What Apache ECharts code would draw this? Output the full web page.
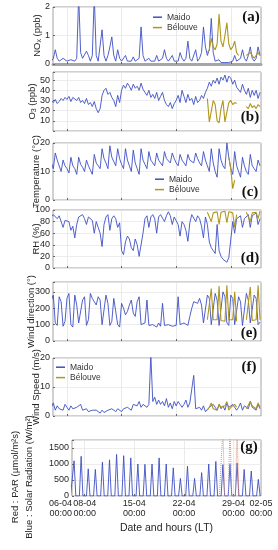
<!DOCTYPE html>
<html><head><meta charset="utf-8">
<script src="https://cdn.jsdelivr.net/npm/echarts@6/dist/echarts.min.js"></script>
<style>html,body{margin:0;padding:0;background:#fff}#c{width:278px;height:550px}</style>
</head><body><div id="c"></div>
<script>
// ---- time grid (hours since 06-04 00:00 LT) ----
const maidoStartHour = 0;     // Maido series start 06-04 00:00
const belouveStartHour = 480; // Bélouve / PAR series start 26-04 00:00
const stepHours = 6;          // one value every 6 h (00, 06, 12, 18)
const xMinHour = 5, xMaxHour = 645;
const xGridHours = [48, 216, 384, 552];
const xLabelHours = [5, 48, 216, 384, 552, 645];
const xLabelTexts = ['06-04\n00:00','08-04\n00:00','15-04\n00:00','22-04\n00:00','29-04\n00:00','02-05\n00:00'];

// ---- (a) NOx (ppb) ----
const noxMaido = [
 0.1,0.2,0.5,0.2, 0.1,0.1,0.2,0.15, 0.1,0.1,0.15,0.1, 0.1,0.2,2.4,0.4, 0.2,0.2,0.45,0.3,
 0.1,0.3,2.4,0.3, 0.1,0.1,1.2,0.3, 0.1,0.3,0.6,0.95, 0.3,0.1,0.5,0.2, 0.1,0.1,0.3,0.1,
 0.1,0.1,0.25,0.1, 0.1,0.2,1.3,0.3, 0.1,0.1,0.2,0.1, 0.1,0.1,0.3,0.1, 0.1,0.2,0.5,0.2,
 0.1,0.1,0.3,0.1, 0.1,0.1,0.4,0.2, 0.1,0.2,0.8,0.2, 0.1,0.1,0.5,0.1, 0.2,0.4,1.3,0.6,
 0.3,0.5,1.6,0.4, 0.1,0.05,0.15,0.05, 0.05,0.05,0.1,0.05, 0.05,0.1,0.3,0.1, 0.1,0.2,0.5,0.2,
 0.1,0.3,0.6,0.2, 0.1,0.2,0.6,0.3];
const noxBelouve = [
 0.4,0.5,0.9,0.6, 0.5,0.7,1.75,0.8, 0.6,1.0,1.45,0.7, 0.5,0.6,0.8,0.4,
 0.3,null,null,null, 0.3,0.3,0.4,0.3, 0.2,0.3,0.4,0.3];

// ---- (b) O3 (ppb) ----
const o3Maido = [
 30,28,31,27, 29,32,30,33, 31,34,29,33, 32,30,33,28, 30,27,32,26,
 28,24,29,22, 18,22,35,40, 42,36,38,33, 30,24,35,28, 40,45,42,47,
 44,40,46,42, 44,40,47,41, 38,35,40,33, 36,32,38,30, 34,38,30,26,
 24,28,22,27, 30,35,28,40, 34,28,36,30, 32,26,34,28, 30,35,32,38,
 42,48,44,50, 47,52,46,53, 50,55,48,54, 52,46,50,43, 44,38,46,40,
 36,42,33,40, 35,40,32,38];
const o3Belouve = [
 32,9,8,30, 26,10,8,22, 30,9,9,28, 30,26,28,27,
 null,null,null,null, 24,22,27,23, 25,22,26,24];

// ---- (c) Temperature (°C) ----
const tempMaido = [
 13,11,16.5,14, 12,10,14,12, 11,9.5,15,12, 11,9,15,12.5, 11.5,10,14,12,
 10.5,9,16,13, 12,11,18,14.5, 13,11,19,15, 13.5,12,18,14.5, 12.5,11,18,14,
 12,10,17.5,13, 11,9,18,14, 12.5,11,17,14, 13,12,16.5,14, 13,12,17,14.5,
 14,13,16.5,14.5, 13,12,16,14, 13,12,16,14, 14,13,16.5,14.5, 13,12,17,14,
 12,10,18,13, 10,8,18,14, 12,11,20,15, 11,9,17,12, 10,8,15,12,
 10,9,16,12, 11,10,14,12];
const tempBelouve = [
 null,null,null,null, null,null,null,null, null,null,null,15, 11,4,7,null,
 null,null,null,null, null,null,null,null, null,null,null,null];

// ---- (d) RH (%) ----
const rhMaido = [
 88,92,90,85, 90,88,70,82, 85,80,65,72, 52,75,88,90, 92,85,75,88,
 90,82,60,80, 70,60,37,75, 88,92,65,85, 90,85,70,78, 30,23,45,55,
 50,35,30,50, 40,20,17,60, 85,90,70,88, 92,85,60,88, 92,95,80,90,
 97,90,75,88, 85,75,55,80, 75,65,46,78, 92,95,80,90, 85,72,52,88,
 75,45,35,30, 25,75,30,20, 15,12,10,18, 20,80,60,85, 85,90,70,85,
 88,92,70,90, 90,95,75,85];
const rhBelouve = [
 96,98,80,95, 98,97,75,96, 98,98,78,97, 97,95,70,92,
 null,null,null,null, 96,97,80,95, 97,96,85,98];

// ---- (e) Wind direction (°) ----
const wdMaido = [
 250,280,110,95, 270,240,90,120, 260,290,100,85, 280,220,110,100, 250,270,95,130,
 290,260,240,220, 270,250,100,90, 280,230,95,120, 260,270,100,85, 230,200,160,180,
 220,250,170,150, 240,270,100,90, 110,250,95,90, 100,95,85,110, 90,230,95,85,
 100,95,90,100, 95,270,100,90, 110,100,95,150, 200,240,250,230, 260,220,110,100,
 280,260,100,110, 290,250,95,100, 300,270,110,95, 280,260,100,110, 270,240,95,100,
 290,250,110,120, 280,260,100,115];
const wdBelouve = [
 130,120,320,130, 125,130,335,125, 130,120,340,130, 125,130,300,120,
 null,null,null,null, 130,125,330,125, 120,130,340,130];

// ---- (f) Wind speed (m/s) ----
const wsMaido = [
 3,4.5,2,3.5, 2.5,3,2,4, 3,2,3.5,2.5, 2,3,2.5,4, 2,1.5,2.5,1.5,
 1,2,1.5,2, 1.5,1,2,1.2, 1,2,1.5,2.5, 2,1.5,2.5,2, 1.5,2.5,2,3,
 3,2,4,3.5, 3.5,5,3,4, 4,3,4,21, 5,6.5,4,5.5, 4,5,3.5,6,
 3,4.5,2.5,5, 3.5,5,4,3, 4,5.5,3,4.5, 4,14,2.5,3, 3,2,3.5,1.5,
 2,3,2.5,4, 3,2,4,2.5, 3.5,2,4.5,3, 2.5,4,3,2, 3,4.5,2,3.5,
 4,2.5,5,3, 3,2,4,2.5];
const wsBelouve = [
 2,3,4.5,2.5, 3,2,4,3, 2.5,3.5,5,2, 3,2.5,4,3,
 null,null,null,null, 2.5,3,5,3.5, 3,2.5,4.5,3];

// ---- (g) Solar radiation (W/m²) and PAR (µmol/m²s) ----
const solarMaido = [
 0,0,1100,0, 0,0,1240,0, 0,0,850,0, 0,0,830,0, 0,0,1060,0,
 0,0,1130,0, 0,0,1300,0, 0,0,1260,0, 0,0,1190,0, 0,0,1000,0,
 0,0,990,0, 0,0,1000,0, 0,0,1190,0, 0,0,1000,0, 0,0,880,0,
 0,0,550,0, 0,0,930,0, 0,0,550,0, 0,0,730,0, 0,0,1000,0,
 0,0,1080,0, 0,0,980,0, 0,0,990,0, 0,0,1030,0, 0,0,830,0,
 0,0,780,0, 0,0,520,0];
const parBelouve = [
 null,null,null,null, 0,0,2100,0, 0,0,2200,0, 0,0,2050,0,
 null,null,null,null, null,null,null,null, null,null,null,null];

// ---- panel definitions ----
const panelTags = ['(a)','(b)','(c)','(d)','(e)','(f)','(g)'];
const yMins = [0,0,0,0,0,0,0];
const yMaxs = [2,58,20,100,360,20,1750];
const yIntervals = [1,10,10,20,100,10,500];
const yHiddenLabels = [[],[0],[],[],[],[],[]];

const FONT = 'Liberation Sans';
const C_MAIDO = '#3d4fc4', C_BEL = '#b0961c', C_PAR = '#de8f74';

const gridBoxes = [[7,57],[72,59],[143,57],[210,58],[282,59],[358,58],[440,56]];
const tagPos = [[251,17],[250,117],[250,192],[250,258],[249,333],[249,367],[249,447]];
const yNameGaps = [9,14,10,10,15,10,36];

const yNames = [
  '{n|NO}{s|x}{n| (ppb)}',
  '{n|O}{s|3}{n| (ppb)}',
  'Temperature (°C)',
  'RH (%)',
  'Wind direction (°)',
  'Wind Speed (m/s)',
  'Red : PAR (µmol/m²s)\nBlue : Solar Radiation (W/m²)'
];

function toXY(arr, start){ return arr.map((v,i)=>[start + i*stepHours, v]); }

const grids = gridBoxes.map(b=>({left:53,right:17,top:b[0],height:b[1],show:true,
  borderColor:'#8a8a8a',borderWidth:0.8}));

const xAxes = gridBoxes.map((b,i)=>({
  type:'value', gridIndex:i, min:xMinHour, max:xMaxHour,
  axisLine:{show:i===0, onZero:false, lineStyle:{color:'#a6a6a6',width:3}},
  axisTick:{show:true, inside:true, length:2, customValues:xGridHours, lineStyle:{color:'#666'}},
  splitLine:{show:true, lineStyle:{color:'#e4e4e4',width:0.8}},
  axisLabel: i===6 ? {show:true, customValues:xLabelHours, fontSize:9, color:'#262626',
      fontFamily:FONT, margin:3, lineHeight:9.5, alignMinLabel:'right', alignMaxLabel:'center',
      formatter:v=>{const k=xLabelHours.indexOf(v);return k>=0?xLabelTexts[k]:'';}} : {show:false},
  name: i===6 ? 'Date and hours (LT)' : '',
  nameLocation:'middle', nameGap:27, nameMoveOverlap:false,
  nameTextStyle:{fontSize:10.5,color:'#262626',fontFamily:FONT}
}));

const yAxes = gridBoxes.map((b,i)=>({
  type:'value', gridIndex:i, min:yMins[i], max:yMaxs[i], interval:yIntervals[i],
  axisLine:{show:false},
  axisTick:{show:true, inside:true, length:2, lineStyle:{color:'#666'}},
  splitLine:{show:true, lineStyle:{color:'#e8e8e8',width:0.8}},
  axisLabel:{fontSize:9, color:'#262626', fontFamily:FONT, margin:3,
    formatter:v=>{ if (v % yIntervals[i] !== 0) return ''; if (yHiddenLabels[i].includes(v)) return ''; return String(v);} },
  name: yNames[i], nameLocation:'middle', nameGap: yNameGaps[i], nameMoveOverlap:false,
  nameTextStyle:{fontSize:9.5, color:'#262626', fontFamily:FONT, lineHeight:14,
    padding: i===6 ? [0,18,0,0] : 0,
    rich:{ n:{fontSize:9.5,lineHeight:14,color:'#262626',fontFamily:FONT},
           s:{fontSize:7,lineHeight:14,color:'#262626',fontFamily:FONT,padding:[5,0,0,0]} } }
}));

function line(name, idx, data, color, extra){
  return Object.assign({type:'line', name, xAxisIndex:idx, yAxisIndex:idx, data,
    showSymbol:false, symbol:'none', connectNulls:false, clip:true, animation:false,
    lineStyle:{color, width:0.9}, itemStyle:{color}}, extra||{});
}

const series = [
  line('Maido',0,toXY(noxMaido,maidoStartHour),C_MAIDO),
  line('Bélouve',0,toXY(noxBelouve,belouveStartHour),C_BEL,{lineStyle:{color:C_BEL,width:1.1}}),
  line('Maido',1,toXY(o3Maido,maidoStartHour),C_MAIDO),
  line('Bélouve',1,toXY(o3Belouve,belouveStartHour),C_BEL,{lineStyle:{color:C_BEL,width:1.1}}),
  line('Maido',2,toXY(tempMaido,maidoStartHour),C_MAIDO),
  line('Bélouve',2,toXY(tempBelouve,belouveStartHour),C_BEL,{lineStyle:{color:C_BEL,width:1.1}}),
  line('Maido',3,toXY(rhMaido,maidoStartHour),C_MAIDO),
  line('Bélouve',3,toXY(rhBelouve,belouveStartHour),C_BEL,{lineStyle:{color:C_BEL,width:1.1}}),
  line('Maido',4,toXY(wdMaido,maidoStartHour),C_MAIDO),
  line('Bélouve',4,toXY(wdBelouve,belouveStartHour),C_BEL,{lineStyle:{color:C_BEL,width:1.1}}),
  line('Maido',5,toXY(wsMaido,maidoStartHour),C_MAIDO),
  line('Bélouve',5,toXY(wsBelouve,belouveStartHour),C_BEL,{lineStyle:{color:C_BEL,width:1.1}}),
  line('Solar radiation',6,toXY(solarMaido,maidoStartHour),C_MAIDO),
  line('PAR',6,toXY(parBelouve,belouveStartHour),C_PAR,{lineStyle:{color:C_PAR,width:1,type:'dotted'}})
];

function legendAt(left, top){
  return {data:['Maido','Bélouve'], orient:'vertical', left, top, itemWidth:9, itemHeight:1.5,
    itemGap:0, icon:'rect', selectedMode:false, padding:0,
    textStyle:{fontSize:8.5, color:'#333', fontFamily:FONT, lineHeight:10.4}};
}

const option = {
  animation:false,
  textStyle:{fontFamily:FONT},
  grid:grids, xAxis:xAxes, yAxis:yAxes, series,
  legend:[legendAt(153,12), legendAt(155,174), legendAt(56,362)],
  graphic: panelTags.map((t,i)=>({type:'text', x:tagPos[i][0], y:tagPos[i][1], z:100,
    style:{text:t, textAlign:'center', textVerticalAlign:'middle',
      font:'bold 15px "Liberation Serif"', fill:'#111'}}))
};
const chart = echarts.init(document.getElementById('c'), null, {renderer:'canvas'});
chart.setOption(option);
</script></body></html>
